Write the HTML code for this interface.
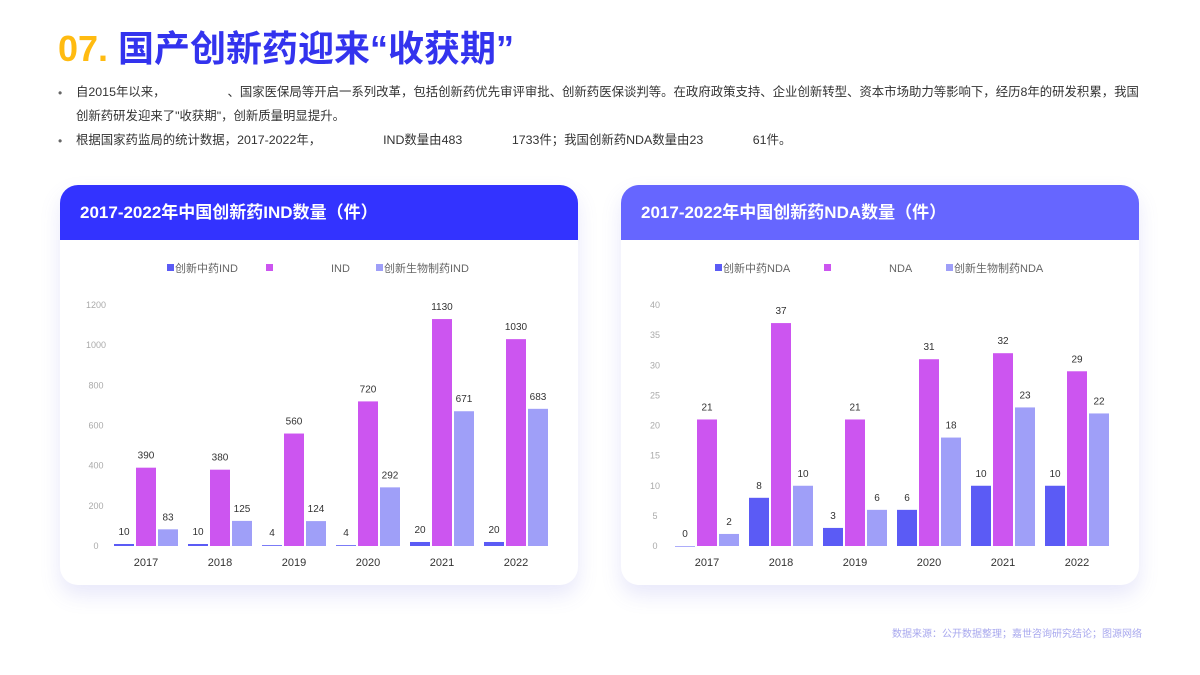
<!DOCTYPE html>
<html><head><meta charset="utf-8">
<style>
body{margin:0;width:1200px;height:675px;background:#fff;font-family:"Liberation Sans","Noto Sans CJK SC",sans-serif;position:relative;overflow:hidden}
.title{position:absolute;left:58px;top:20px;font-size:36px;font-weight:bold;color:#3333ee;white-space:nowrap}
.title span{color:#ffbb11}
.p{position:absolute;left:76px;font-size:12.4px;color:#333;white-space:nowrap;line-height:24px}
.dot{position:absolute;left:58px;font-size:12px;color:#666}
.card{position:absolute;top:185px;width:518px;height:400px;background:#fff;border-radius:18px;box-shadow:0 10px 20px rgba(100,100,220,0.15);overflow:hidden}
.hdr{height:55px;color:#fff;font-weight:bold;font-size:17px;line-height:55px;padding-left:20px}
.src{position:absolute;right:58px;top:625px;font-size:10px;color:#a8a8ee}
</style></head><body>
<div class="title"><span>07.</span> 国产创新药迎来“收获期”</div>
<div class="dot" style="top:86px">•</div>
<div class="p" style="top:80px">自2015年以来，&emsp;&emsp;&emsp;&emsp;&emsp;、国家医保局等开启一系列改革，包括创新药优先审评审批、创新药医保谈判等。在政府政策支持、企业创新转型、资本市场助力等影响下，经历8年的研发积累，我国<br>创新药研发迎来了"收获期"，创新质量明显提升。</div>
<div class="dot" style="top:134px">•</div>
<div class="p" style="top:128px">根据国家药监局的统计数据，2017-2022年，&emsp;&emsp;&emsp;&emsp;&emsp;IND数量由483&emsp;&emsp;&emsp;&emsp;1733件；我国创新药NDA数量由23&emsp;&emsp;&emsp;&emsp;61件。</div>
<div class="card" style="left:60px"><div class="hdr" style="background:#3333ff">2017-2022年中国创新药IND数量（件）</div><svg id="c1" width="518" height="345"></svg></div>
<div class="card" style="left:621px"><div class="hdr" style="background:#6666ff">2017-2022年中国创新药NDA数量（件）</div><svg id="c2" width="518" height="345"></svg></div>
<div class="src">数据来源：公开数据整理；嘉世咨询研究结论；图源网络</div>
<script>
const years=["2017","2018","2019","2020","2021","2022"];
const indTcm=[10,10,4,4,20,20];
const indChem=[390,380,560,720,1130,1030];
const indBio=[83,125,124,292,671,683];
const indTicks=[0,200,400,600,800,1000,1200];
const ndaTcm=[0,8,3,6,10,10];
const ndaChem=[21,37,21,31,32,29];
const ndaBio=[2,10,6,18,23,22];
const ndaTicks=[0,5,10,15,20,25,30,35,40];
const colors=["#5b5bf5","#cc55f0","#9f9ff8"];
const NS="http://www.w3.org/2000/svg";
function mk(svg,tag,attrs,text){const e=document.createElementNS(NS,tag);for(const k in attrs)e.setAttribute(k,attrs[k]);if(text!==undefined)e.textContent=text;svg.appendChild(e);return e;}
function draw(id,series,ticks,max,legend,tickX){
 const svg=document.getElementById(id);
 const y0=361-55,y1=120-55;
 const ys=v=>y0-(v/max)*(y0-y1);
 const xs=i=>86+i*74;
 ticks.forEach(t=>{const e=mk(svg,'text',{x:tickX,y:ys(t)+3,'font-size':9,fill:'#aaa','text-anchor':'middle'},t);
 
 });
 years.forEach((y,i)=>{const e=mk(svg,'text',{x:xs(i),y:y0+20,'font-size':11,fill:'#333','text-anchor':'middle'},y);
 
 });
 series.forEach((s,k)=>{s.forEach((v,i)=>{const x=xs(i)+(k-1)*22-10;
  const r=mk(svg,'rect',{x:x,y:ys(v),width:20,height:Math.max(y0-ys(v),0.5),fill:colors[k]});
  
  
  const t=mk(svg,'text',{x:x+10,y:ys(v)-9,'font-size':10,fill:'#333','text-anchor':'middle'},v);
  
  });});
 legend.forEach((l,k)=>{const g=mk(svg,'g',{});
  
  
  mk(g,'rect',{x:l[0],y:24,width:7,height:7,fill:colors[k]});
  mk(g,'text',{x:l[1],y:32,'font-size':11,fill:'#666'},l[2]);});
}
draw('c1',[indTcm,indChem,indBio],indTicks,1200,[[107,115,'创新中药IND'],[206,271,'IND'],[316,324,'创新生物制药IND']],36);
draw('c2',[ndaTcm,ndaChem,ndaBio],ndaTicks,40,[[94,102,'创新中药NDA'],[203,268,'NDA'],[325,333,'创新生物制药NDA']],34);
</script>
</body></html>
